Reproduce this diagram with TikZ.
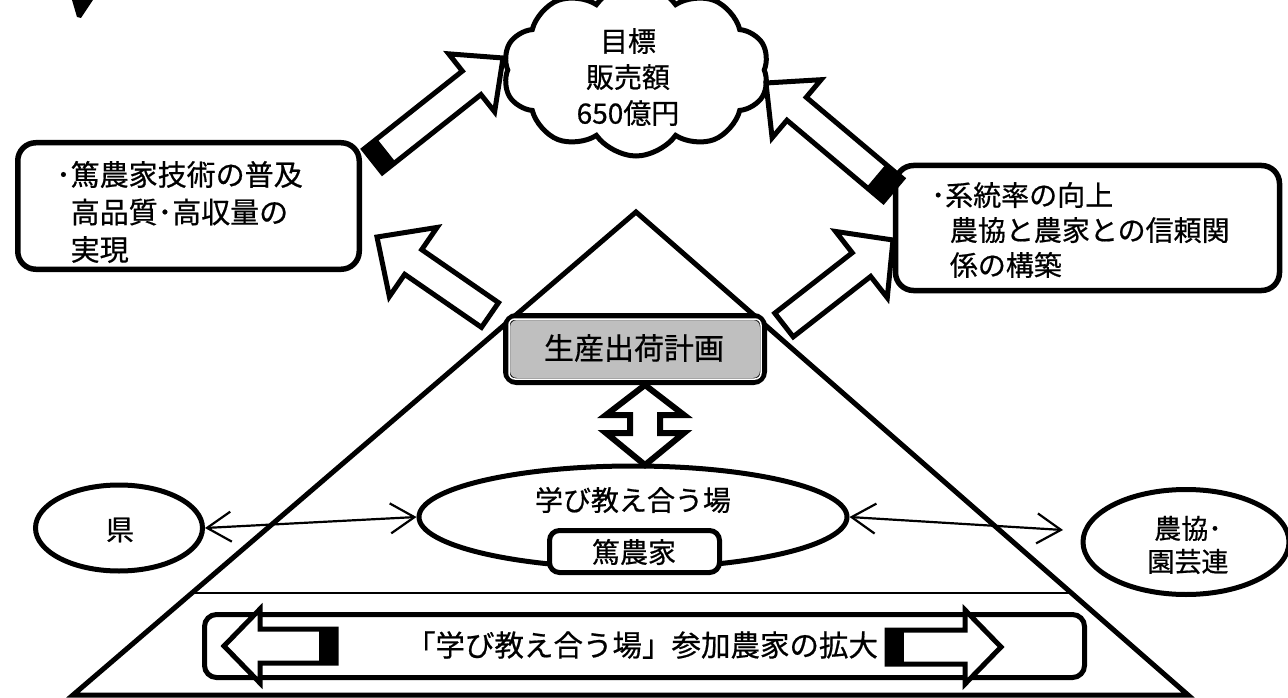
\documentclass[tikz,border=0pt]{standalone}
\usepackage{fontspec}
\setmainfont{Noto Sans CJK JP}[FakeBold=0.6]
\usetikzlibrary{shapes.geometric,shapes.symbols,calc,arrows.meta}

\newcommand{\jpsize}[2]{\fontsize{#1}{#2}\selectfont}
% tail, tip, shaft half-width, head half-width, head length, tail block length
\newcommand{\blkarrow}[6]{%
  \coordinate (bh) at ($(#2)!#5!(#1)$);
  \coordinate (bt) at ($(#1)!#6!(#2)$);
  \filldraw[fill=white, draw=black, line width=5pt, line join=miter]
    ($(#1)!#3!90:(#2)$) -- ($(bh)!#3!90:(#2)$) -- ($(bh)!#4!90:(#2)$) -- (#2)
    -- ($(bh)!#4!-90:(#2)$) -- ($(bh)!#3!-90:(#2)$) -- ($(#1)!#3!-90:(#2)$) -- cycle;
  \fill ($(#1)!#3!90:(#2)$) -- ($(bt)!#3!90:(#2)$) -- ($(bt)!#3!-90:(#2)$) -- ($(#1)!#3!-90:(#2)$) -- cycle;
}

\tikzset{
  thickbox/.style={draw, line width=5.5pt, rounded corners=18pt, fill=white, inner sep=0pt},
  oval/.style={ellipse, draw, line width=5pt, fill=white, inner sep=0pt},
  txt/.style={inner sep=0pt, font=\jpsize{28}{36}},
  thinarrow/.style={line width=2.2pt,
     {Straight Barb[length=24pt,width=30pt,line width=2.2pt]}-{Straight Barb[length=24pt,width=30pt,line width=2.2pt]}},
}

\begin{document}
\begin{tikzpicture}[x=1pt,y=-1pt]
\useasboundingbox (0,0) rectangle (1288,698);

% stray mark at top left
\fill (72,0) -- (93,0) -- (81,18) -- (77,17) -- cycle;

% triangle
\coordinate (apex) at (636,212);
\coordinate (bl) at (73,695);
\coordinate (br) at (1188,695);
\draw[line width=5pt, line join=miter] (bl) -- (apex) -- (br) -- cycle;
\draw[line width=2pt] ($(bl)!0.211!(apex)$) -- ($(br)!0.211!(apex)$);

% bottom box
\node[thickbox, line width=5pt, rounded corners=12pt, minimum width=880pt, minimum height=63pt] (bbox) at (644.5,646) {};
\node[txt, font=\jpsize{29.5}{36}] (btext) at (642,645) {「学び教え合う場」参加農家の拡大};
\coordinate (la-tail) at (336,646);
\coordinate (la-tip) at (224,646);
\blkarrow{la-tail}{la-tip}{17pt}{37pt}{36pt}{17pt}
\coordinate (ra-tail) at (887,647);
\coordinate (ra-tip) at (1001,647);
\blkarrow{ra-tail}{ra-tip}{17pt}{37pt}{36pt}{17pt}

% production plan box
\node[draw, line width=7pt, rounded corners=10pt, fill=gray!50, minimum width=257pt, minimum height=65pt, inner sep=0pt] (plan) at (635,349) {};
\draw[white, line width=1.5pt, rounded corners=6pt] ($(plan.north west)+(6,6)$) rectangle ($(plan.south east)+(-6,-6)$);
\node[txt, font=\jpsize{30}{36}] (plantext) at (634,348) {生産出荷計画};

% center ellipse and farmer box
\node[oval, minimum width=428pt, minimum height=102pt] (manabi) at (633,517) {};
\node[txt] (manabitext) at (633,500) {学び教え合う場};
\node[thickbox, line width=5pt, rounded corners=10pt, minimum width=170pt, minimum height=42pt] (tokuno) at (634.5,551.5) {};
\node[txt] (tokunotext) at (634,552) {篤農家};

% vertical double arrow
\coordinate (dbl) at (645,425);
\draw[shift={(dbl)}, line width=6pt, line join=miter, fill=white]
  (0,-40) -- (39,-10) -- (15,-10) -- (15,8) -- (39,8) -- (0,40) -- (-39,8) -- (-15,8) -- (-15,-10) -- (-39,-10) -- cycle;

% side ellipses
\node[oval, minimum width=167pt, minimum height=86pt] (ken) at (119,528) {};
\node[txt] (kentext) at (120,530) {県};
\node[oval, minimum width=206pt, minimum height=105pt] (nokyo) at (1186,542) {};
\node[txt, align=center, font=\jpsize{27}{33}] (nokyotext) at (1188,545) {農協･\\園芸連};

% thin double arrows
\coordinate (nkend) at (1063,530);
\draw[thinarrow] (ken.east) -- (manabi.west);
\draw[thinarrow] (manabi.east) -- (nkend);

% upper boxes
\node[thickbox, minimum width=341.5pt, minimum height=126.5pt] (lbox) at (188.5,206) {};
\node[txt, anchor=west, align=left, font=\jpsize{29}{37.5}] (ltext) at (56,212)
  {･篤農家技術の普及\\\phantom{･}高品質･高収量の\\\phantom{･}実現};
\node[thickbox, minimum width=384pt, minimum height=125pt] (rbox) at (1087.5,228) {};
\node[txt, anchor=west, align=left, font=\jpsize{28}{35}] (rtext) at (931,230)
  {･系統率の向上\\\phantom{･}\,農協と農家との信頼関\\\phantom{･}\,係の構築};

% cloud
\node[cloud, draw, line width=5pt, fill=white, cloud puffs=10, cloud puff arc=110, aspect=1.5,
      minimum width=266pt, minimum height=172pt, inner sep=0pt] (cloud) at (636,70) {};
\node[txt, align=center] (goal) at (628,77) {目標\\販売額\\650億円};

% big white arrows
\coordinate (a1-tail) at (373,161);
\coordinate (a1-tip) at (503,58);
\blkarrow{a1-tail}{a1-tip}{15pt}{37pt}{40pt}{17pt}
\coordinate (a2-tail) at (893,190);
\coordinate (a2-tip) at (766,83);
\blkarrow{a2-tail}{a2-tip}{15pt}{38pt}{40pt}{22pt}
\coordinate (a3-tail) at (490,315);
\coordinate (a3-tip) at (377,237);
\blkarrow{a3-tail}{a3-tip}{15pt}{42pt}{44pt}{0pt}
\coordinate (a4-tail) at (784,325);
\coordinate (a4-tip) at (893,240);
\blkarrow{a4-tail}{a4-tip}{15pt}{42pt}{40pt}{0pt}
\end{tikzpicture}
\end{document}
